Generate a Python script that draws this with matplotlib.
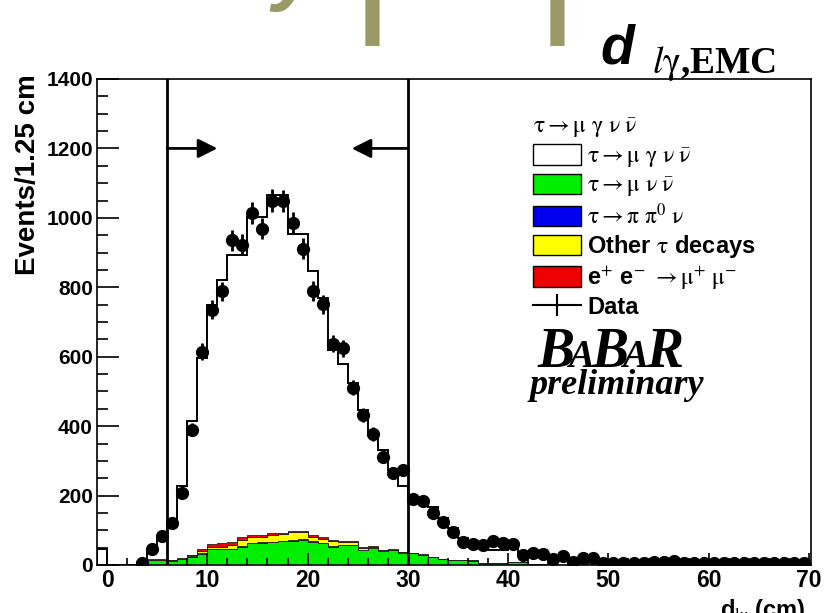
import numpy as np
import matplotlib
matplotlib.use("Agg")
import matplotlib.pyplot as plt
from matplotlib.patches import Patch
from matplotlib.lines import Line2D

plt.rcParams['mathtext.fontset'] = 'stix'
plt.rcParams['mathtext.default'] = 'rm'

# histogram bins [-1,0], [0,1], ... [69,70]
edges = np.arange(-1, 71)

mc_total = [46, 0, 0, 0, 8, 41, 74, 120, 227, 415,
            597, 748, 820, 894, 894, 1002, 1002, 1065, 1065, 953,
            953, 847, 768, 619, 580, 523, 446, 379, 331, 273,
            227, 182, 182, 167, 135, 106, 78, 58, 48, 43,
            43, 62, 30, 25, 22, 14, 14, 10, 10, 8,
            8, 3, 3, 3, 3, 3, 3, 3, 3, 3,
            3, 3, 3, 3, 3, 3, 3, 3, 3, 3, 3]

green = [0, 0, 0, 0, 5, 13, 14, 12, 16, 24,
         33, 45, 45, 45, 52, 63, 64, 65, 68, 70,
         72, 67, 62, 52, 57, 57, 43, 48, 41, 43,
         36, 35, 29, 22, 16, 14, 14, 12, 6, 5,
         5, 8, 8, 3, 2, 1, 1, 1, 1, 1,
         1] + [0] * 20

blue = [0, 0, 0, 0, 0, 0, 0, 0, 0, 1,
        1, 1, 1, 2, 2, 1, 1, 1, 1, 2,
        2, 1, 1, 3, 1, 1, 1, 1] + [0] * 43

yellow = [0, 0, 0, 0, 1, 2, 1, 1, 2, 3,
          6, 5, 6, 12, 18, 17, 16, 20, 19, 22,
          20, 14, 13, 14, 9, 9, 6, 4, 1, 1,
          1, 1, 1, 1, 1, 1, 1, 1, 1, 1,
          1, 1, 1, 1, 1] + [0] * 26

red = [0, 0, 0, 0, 0, 1, 1, 1, 2, 2,
       5, 9, 10, 8, 8, 5, 5, 5, 4, 4,
       4, 4, 4, 3, 3, 3, 3, 2, 1, 1,
       1, 0, 1, 1, 1] + [0] * 36

# data, bins 3..69
data_first_bin = 3
data = [7, 45, 84, 122, 206, 390, 614, 736, 788, 935,
        923, 1014, 969, 1050, 1048, 985, 911, 789, 751, 638,
        624, 511, 432, 377, 312, 266, 273, 189, 185, 149,
        125, 96, 67, 60, 58, 70, 64, 60, 29, 35,
        32, 16, 27, 10, 19, 19, 7, 7, 7, 6,
        7, 8, 9, 11, 5, 6, 6, 7, 6, 6,
        5, 6, 6, 6, 7, 6, 5]

cut_lo = 6
cut_hi = 30
arrow_y = 1200
arrow_len = 5

labels = [r'$\tau \rightarrow \mu\ \gamma\ \nu\ \bar{\nu}$',
          r'$\tau \rightarrow \mu\ \nu\ \bar{\nu}$',
          r'$\tau \rightarrow \pi\ \pi^{0}\ \nu$',
          r'Other $\tau$ decays',
          r'e$^{+}$ e$^{-}$ $\rightarrow \mu^{+}\ \mu^{-}$',
          'Data']
colors = ['white', '#00ee00', '#0000ee', '#ffff00', '#ee0000']

fig = plt.figure(figsize=(8.27, 6.13), dpi=100)
ax = fig.add_axes([97/827, 1-565/613, 714/827, 486/613])

mc_total = np.array(mc_total, float)
comps = [np.array(c, float) for c in (green, blue, yellow, red)]

ax.stairs(mc_total, edges, fill=True, color='white', zorder=1)
base = np.zeros(len(mc_total))
for c, col in zip(comps, colors[1:]):
    ax.stairs(base + c, edges, baseline=base, fill=True, facecolor=col,
              edgecolor='#222222', lw=0.6, zorder=2)
    base = base + c
ax.stairs(mc_total, edges, color='black', lw=1.4, zorder=3)

xd = np.arange(len(data)) + data_first_bin + 0.5
yd = np.array(data, float)
ax.errorbar(xd, yd, yerr=np.sqrt(yd), fmt='o', color='black', ms=8.5,
            elinewidth=2, capsize=0, zorder=5)

ax.axvline(cut_lo, color='black', lw=2, zorder=4)
ax.axvline(cut_hi, color='black', lw=2, zorder=4)
ax.annotate('', xy=(cut_lo + arrow_len, arrow_y), xytext=(cut_lo, arrow_y),
            arrowprops=dict(arrowstyle='-|>', lw=2, color='black', mutation_scale=29,
                            shrinkA=0, shrinkB=0), zorder=4)
ax.annotate('', xy=(cut_hi - arrow_len - 0.6, arrow_y), xytext=(cut_hi, arrow_y),
            arrowprops=dict(arrowstyle='-|>', lw=2, color='black', mutation_scale=29,
                            shrinkA=0, shrinkB=0), zorder=4)

ax.set_xlim(-1, 70.2)
ax.set_ylim(0, 1400)
ax.set_axisbelow(False)
ax.set_xticks(np.arange(0, 71, 10))
ax.set_xticks(np.arange(0, 71, 2), minor=True)
ax.set_yticks(np.arange(0, 1401, 200))
ax.set_yticks(np.arange(0, 1401, 50), minor=True)
ax.tick_params(axis='x', which='major', direction='in', length=9, width=1.2, pad=3)
ax.tick_params(axis='x', which='minor', direction='in', length=5, width=1.2)
ax.tick_params(axis='y', which='major', direction='in', length=16, width=1.2, pad=3)
ax.tick_params(axis='y', which='minor', direction='in', length=8, width=1.2)
for t in ax.get_xticklabels():
    t.set_fontfamily('Liberation Sans')
    t.set_fontweight('bold')
    t.set_fontsize(16.5)
for t in ax.get_yticklabels():
    t.set_fontfamily('Liberation Sans')
    t.set_fontweight('bold')
    t.set_fontsize(15)
for s in ax.spines.values():
    s.set_linewidth(1.2)

ax.set_ylabel('Events/1.25 cm', fontsize=20, fontweight='bold',
              family='Liberation Sans', loc='top')
ax.yaxis.set_label_coords(-0.078, 1.01)
fig.text(806/827, 1-597/613, r'd$_{l\gamma}$ (cm)', ha='right', va='top',
         fontsize=17, fontweight='bold', family='Liberation Sans')

handles = [Patch(facecolor=c, edgecolor='black', lw=1) for c in colors]
handles.append(Line2D([0], [0], color='black', lw=1.5, marker='|', ms=16, mew=1.5))
leg = ax.legend(handles, labels, title=r'$\tau \rightarrow \mu\ \gamma\ \nu\ \bar{\nu}$',
                loc='upper left', bbox_to_anchor=(533/827, 1-114/613),
                bbox_transform=fig.transFigure, frameon=False, alignment='left',
                prop=dict(family='Liberation Sans', weight='bold', size=17),
                title_fontproperties=dict(size=17),
                handlelength=2.05, handleheight=0.95, labelspacing=0.18,
                handletextpad=0.25, borderpad=0, borderaxespad=0)

# BaBar logo
logo_y = 1 - 367/613
fs_big, fs_small = 40, 28
for ch, px, fs in [('B', 538, fs_big), ('A', 568, fs_small), ('B', 592, fs_big),
                   ('A', 622, fs_small), ('R', 646, fs_big)]:
    fig.text(px/827, logo_y, ch, fontsize=fs, family='Liberation Serif',
             fontweight='bold', style='italic', va='baseline')
fig.text(617/827, 1-394/613, 'preliminary', ha='center', va='baseline',
         fontsize=26, family='Liberation Serif', fontweight='bold', style='italic')

# variable name top right
fig.text(600/827, 1-64/613, 'd', fontsize=40, family='Liberation Sans',
         fontweight='bold', style='italic', va='baseline')
fig.text(652/827, 1-73/613, r'$\mathit{l}$$\gamma$,EMC', fontsize=27,
         family='Liberation Serif', fontweight='bold', va='baseline')

# slide title remnants at the top edge
olive = '#9a9a68'
fig.text(272/827, 1-12/613, 'y', fontsize=60, color=olive, fontweight='bold',
         style='italic', family='Liberation Sans', va='bottom')
for px in (355, 540):
    fig.text(px/827, 1-46/613, '|', fontsize=80, color=olive, fontweight='bold',
             style='italic', family='Liberation Sans', va='bottom')

fig.savefig('out.png', dpi=100)
